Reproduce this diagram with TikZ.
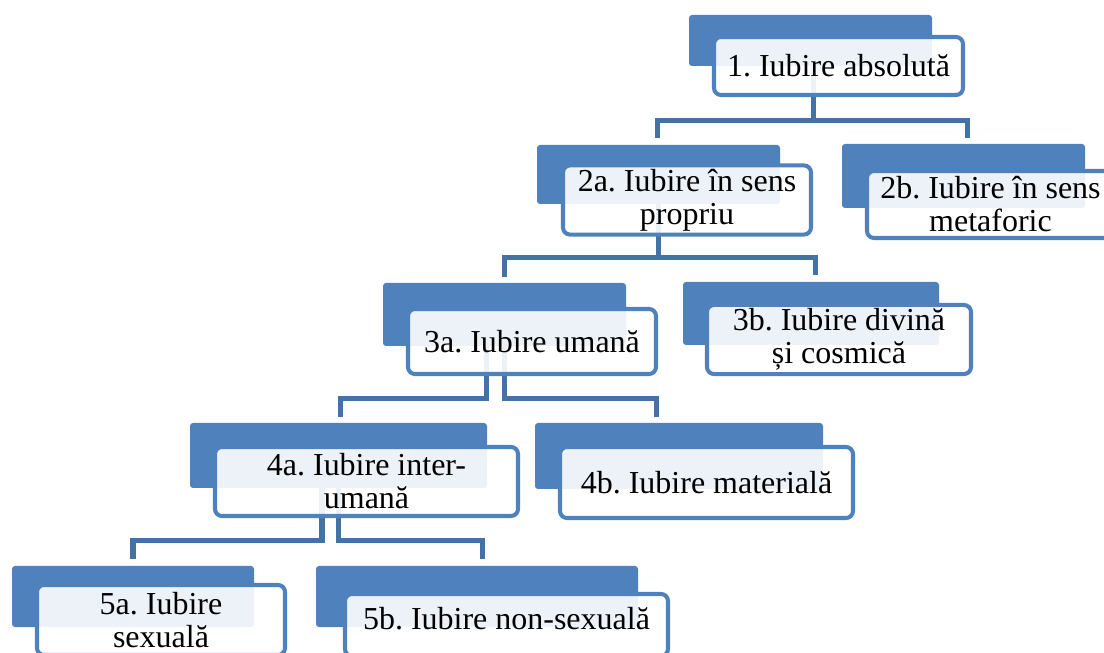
\documentclass[tikz,border=0pt]{standalone}
\usepackage{fontspec}
\setmainfont{Liberation Serif}
\frenchspacing
\definecolor{accent}{HTML}{4F81BD}
\definecolor{linkblue}{HTML}{4372A6}

\tikzset{
  backbox/.style={fill=accent, rounded corners=0.06cm, inner sep=0pt},
  frontbox/.style={fill=white, fill opacity=0.9, text opacity=1, draw=accent,
    line width=2.3pt, rounded corners=0.14cm, align=center, inner sep=2pt,
    font=\fontsize{18.2}{18.8}\selectfont},
  link/.style={draw=linkblue, line width=2.85pt}
}

\begin{document}
\begin{tikzpicture}

\useasboundingbox (0,0) rectangle (22.08,-13.06);

% Back boxes
\node (b1) at (16.21, -0.81) [backbox, minimum width=4.86cm, minimum height=1.02cm] {};
\node (b2a) at (13.17, -3.49) [backbox, minimum width=4.86cm, minimum height=1.18cm] {};
\node (b2b) at (19.27, -3.52) [backbox, minimum width=4.86cm, minimum height=1.28cm] {};
\node (b3a) at (10.09, -6.29) [backbox, minimum width=4.86cm, minimum height=1.26cm] {};
\node (b3b) at (16.22, -6.27) [backbox, minimum width=5.12cm, minimum height=1.26cm] {};
\node (b4a) at (6.77, -9.11) [backbox, minimum width=5.94cm, minimum height=1.30cm] {};
\node (b4b) at (13.58, -9.12) [backbox, minimum width=5.76cm, minimum height=1.32cm] {};
\node (b5a) at (2.66, -11.93) [backbox, minimum width=4.84cm, minimum height=1.22cm] {};
\node (b5b) at (9.54, -11.93) [backbox, minimum width=6.44cm, minimum height=1.22cm] {};

% Connectors
\draw[link] ([xshift=0.05cm]b1.south) -- ++(0,-1.08) -| ([xshift=-0.03cm, yshift=0.14cm]b2a.north);
\draw[link] ([xshift=0.05cm]b1.south) -- ++(0,-1.08) -| ([xshift=0.07cm, yshift=0.12cm]b2b.north);
\draw[link] (b2a.south) -- ++(0,-1.06) -| ([yshift=0.12cm]b3a.north);
\draw[link] (b2a.south) -- ++(0,-1.06) -| ([xshift=0.08cm, yshift=0.14cm]b3b.north);
\draw[link] ([xshift=-0.37cm]b3a.south) -- ++(0,-1.04) -| ([xshift=0.03cm, yshift=0.12cm]b4a.north);
\draw[link] (b3a.south) -- ++(0,-1.04) -| ([xshift=-0.46cm, yshift=0.12cm]b4b.north);
\draw[link] ([xshift=-0.33cm]b4a.south) -- ++(0,-1.04) -| ([yshift=0.14cm]b5a.north);
\draw[link] (b4a.south) -- ++(0,-1.04) -| ([xshift=0.10cm, yshift=0.14cm]b5b.north);

% Level 1
\node (n1) at (16.77, -1.32) [frontbox, minimum width=4.98cm, minimum height=1.16cm] {1. Iubire absolută};

% Level 2
\node (n2a) at (13.74, -4.00) [frontbox, minimum width=4.96cm, minimum height=1.24cm] {2a. Iubire în sens\\propriu};
\node (n2b) at (19.81, -4.09) [frontbox, minimum width=4.94cm, minimum height=1.34cm] {2b. Iubire în sens\\metaforic};

% Level 3
\node (n3a) at (10.64, -6.83) [frontbox, minimum width=4.96cm, minimum height=1.30cm] {3a. Iubire umană};
\node (n3b) at (16.78, -6.79) [frontbox, minimum width=5.28cm, minimum height=1.38cm] {3b. Iubire divină\\și cosmică};

% Level 4
\node (n4a) at (7.33, -9.63) [frontbox, minimum width=6.06cm, minimum height=1.38cm] {4a. Iubire inter-\\umană};
\node (n4b) at (14.13, -9.65) [frontbox, minimum width=5.86cm, minimum height=1.42cm] {4b. Iubire materială};

% Level 5
\node (n5a) at (3.22, -12.40) [frontbox, minimum width=4.96cm, minimum height=1.40cm] {5a. Iubire\\sexuală};
\node (n5b) at (10.13, -12.50) [frontbox, minimum width=6.46cm, minimum height=1.24cm, text depth=0.25cm] {5b. Iubire non-sexuală};

\end{tikzpicture}
\end{document}
